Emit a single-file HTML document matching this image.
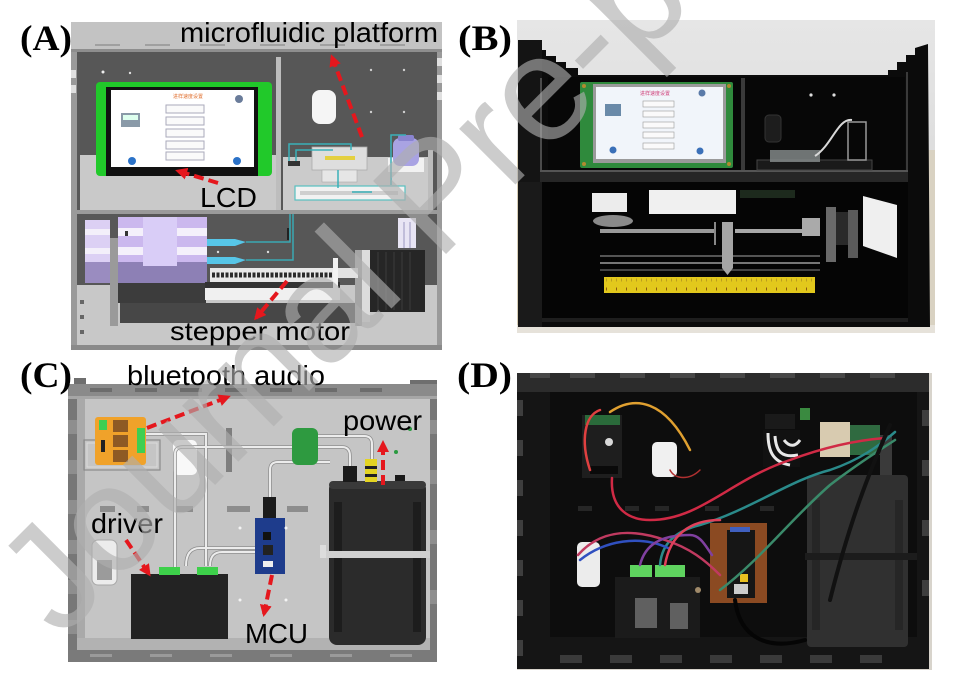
<!DOCTYPE html>
<html><head><meta charset="utf-8"><style>
html,body{margin:0;padding:0;background:#fff;}
svg{display:block;}
.lb{font-family:"Liberation Sans",Arial,sans-serif;fill:#000;}
.pl{font-family:"Liberation Serif","Times New Roman",serif;font-weight:bold;fill:#000;}
</style></head><body>
<svg width="955" height="683" viewBox="0 0 955 683" xmlns="http://www.w3.org/2000/svg">
<defs>
<marker id="ah" markerWidth="14" markerHeight="14" refX="9" refY="7" orient="auto" markerUnits="userSpaceOnUse">
<path d="M0,1 L12,7 L0,13 Z" fill="#e5171d"/>
</marker>
<linearGradient id="wall" x1="0" y1="0" x2="0" y2="1">
<stop offset="0" stop-color="#e6e6e6"/><stop offset="1" stop-color="#d2d2d2"/>
</linearGradient>
</defs>
<rect width="955" height="683" fill="#fff"/>

<!-- ================= PANEL A ================= -->
<rect x="71" y="22" width="371" height="328" fill="#7a7a7a"/>
<rect x="71" y="22" width="371" height="29" fill="#c3c3c3"/>
<rect x="71" y="49" width="371" height="3" fill="#8e8e8e"/>
<g fill="#a0a0a0"><rect x="95" y="44" width="25" height="2"/><rect x="145" y="44" width="25" height="2"/><rect x="200" y="44" width="25" height="2"/><rect x="260" y="44" width="25" height="2"/><rect x="320" y="44" width="25" height="2"/><rect x="380" y="44" width="25" height="2"/></g>
<rect x="71" y="52" width="6" height="298" fill="#9a9a9a"/>
<rect x="437" y="52" width="5" height="298" fill="#9a9a9a"/>
<g fill="#e0e0e0"><rect x="437" y="58" width="5" height="8"/><rect x="437" y="75" width="5" height="8"/><rect x="437" y="92" width="5" height="8"/><rect x="71" y="70" width="5" height="8"/><rect x="71" y="85" width="5" height="8"/></g>
<rect x="77" y="52" width="360" height="160" fill="#575757"/>
<rect x="276" y="57" width="5" height="153" fill="#bdbdbd"/>
<rect x="80" y="155" width="196" height="55" fill="#c9c9c9"/>
<rect x="283" y="157" width="150" height="53" fill="#cbcbcb"/>
<rect x="428" y="150" width="5" height="60" fill="#bcbcbc"/>
<rect x="77" y="210" width="360" height="4" fill="#9a9a9a"/>
<rect x="77" y="214" width="360" height="71" fill="#575757"/>
<rect x="77" y="285" width="360" height="60" fill="#c8c8c8"/>
<rect x="71" y="345" width="371" height="5" fill="#8a8a8a"/>
<g fill="#666"><rect x="80" y="300" width="4" height="4"/><rect x="80" y="315" width="4" height="4"/><rect x="80" y="330" width="4" height="4"/></g>
<rect x="118" y="283" width="88" height="20" fill="#3c3c3c"/>
<rect x="120" y="303" width="242" height="20" fill="#474747"/>
<rect x="110" y="238" width="8" height="88" fill="#9a9a9a"/>
<rect x="355" y="250" width="7" height="76" fill="#a5a5a5"/>
<rect x="85" y="220" width="25" height="42" fill="#dcd0f4"/>
<rect x="85" y="262" width="25" height="21" fill="#9a8cc0"/>
<rect x="85" y="229" width="25" height="6" fill="#f3effa"/>
<rect x="85" y="248" width="25" height="6" fill="#f3effa"/>
<rect x="118" y="217" width="89" height="45" fill="#cbb8ee"/>
<rect x="118" y="262" width="89" height="21" fill="#8d80b5"/>
<rect x="143" y="217" width="34" height="49" fill="#d9cdf7"/>
<g fill="#f4f0fb"><rect x="118" y="228" width="25" height="8"/><rect x="177" y="228" width="30" height="8"/><rect x="118" y="247" width="25" height="8"/><rect x="177" y="247" width="30" height="8"/></g>
<rect x="125" y="231" width="3" height="5" fill="#333"/>
<rect x="207" y="239" width="28" height="7" fill="#57c6e8"/><path d="M235,239 L246,242 L235,246 Z" fill="#57c6e8"/>
<rect x="207" y="257" width="28" height="7" fill="#57c6e8"/><path d="M235,257 L246,260 L235,264 Z" fill="#57c6e8"/>
<path d="M246,242 L290,242 L290,214 M246,260 L293,260 L293,214" stroke="#3aa8b4" stroke-width="1.5" fill="none"/>
<rect x="287" y="228" width="2" height="12" fill="#222"/>
<circle cx="218" cy="252" r="1.2" fill="#ddd"/><circle cx="268" cy="252" r="1.2" fill="#ddd"/>
<rect x="210" y="268" width="126" height="14" fill="#e8e8e8"/>
<line x1="212" y1="275" x2="334" y2="275" stroke="#2a2a2a" stroke-width="5" stroke-dasharray="3 1.5"/>
<rect x="205" y="282" width="135" height="6" fill="#333"/>
<rect x="205" y="288" width="135" height="12" fill="#f0f0f0"/>
<rect x="333" y="258" width="5" height="42" fill="#f2f2f2"/>
<rect x="338" y="268" width="20" height="10" fill="#e2e2e2"/>
<rect x="362" y="250" width="8" height="72" fill="#dcdcdc"/>
<rect x="370" y="250" width="55" height="62" fill="#262626"/>
<g stroke="#3c3c3c" stroke-width="1"><line x1="378" y1="252" x2="378" y2="310"/><line x1="386" y1="252" x2="386" y2="310"/><line x1="394" y1="252" x2="394" y2="310"/><line x1="402" y1="252" x2="402" y2="310"/><line x1="410" y1="252" x2="410" y2="310"/></g>
<rect x="398" y="218" width="18" height="30" fill="#e8e5f4"/>
<line x1="404" y1="222" x2="404" y2="248" stroke="#9a96c0"/><line x1="410" y1="222" x2="410" y2="248" stroke="#9a96c0"/>
<rect x="96" y="82" width="176" height="94" rx="4" fill="#21c92a"/>
<rect x="106" y="87" width="152" height="89" fill="#111"/>
<rect x="111" y="90" width="143" height="77" fill="#fff"/>
<text x="188" y="98" font-size="5" fill="#e07030" font-family="Liberation Sans,sans-serif" text-anchor="middle">进样速度设置</text>
<g fill="#fafafa" stroke="#aab"><rect x="166" y="105" width="38" height="8"/><rect x="166" y="117" width="38" height="8"/><rect x="166" y="129" width="38" height="8"/><rect x="166" y="141" width="38" height="8"/><rect x="166" y="152" width="38" height="8"/></g>
<rect x="121" y="113" width="19" height="14" fill="#8a9aa8"/><rect x="123" y="115" width="15" height="5" fill="#dfe"/>
<circle cx="132" cy="161" r="4" fill="#2b72c8"/><circle cx="237" cy="161" r="4" fill="#2b72c8"/><circle cx="239" cy="99" r="4" fill="#6a7c9a"/>
<circle cx="103" cy="72" r="1.5" fill="#eee"/><circle cx="130" cy="73" r="1.2" fill="#ddd"/>
<rect x="312" y="90" width="24" height="34" rx="8" fill="#f5f5f5"/>
<g fill="#cfcfcf"><circle cx="371" cy="70" r="1.2"/><circle cx="404" cy="70" r="1.2"/><circle cx="371" cy="112" r="1.2"/><circle cx="404" cy="112" r="1.2"/></g>
<rect x="312" y="147" width="55" height="23" fill="#dedede" stroke="#aaa" stroke-width="0.8"/>
<rect x="325" y="156" width="30" height="4" fill="#e4d040"/>
<rect x="322" y="170" width="35" height="12" fill="#e6e6e6" stroke="#aaa" stroke-width="0.6"/>
<rect x="295" y="186" width="110" height="14" fill="#f2f2f2" stroke="#57c0c0" stroke-width="1.2"/>
<rect x="300" y="191" width="98" height="4" fill="#cfcfcf"/>
<rect x="388" y="158" width="36" height="14" fill="#f2f2f2"/>
<rect x="393" y="138" width="26" height="28" rx="7" fill="#a9a3e3"/>
<rect x="398" y="135" width="16" height="6" rx="2" fill="#8a84d0"/>
<rect x="288" y="161" width="12" height="5" fill="#333"/>
<path d="M289,161 L289,144 L351,144 L351,150 M296,161 L296,150 L333,150 M338,170 L338,188 M391,185 L391,135 L406,135 M352,192 L372,192" stroke="#3ab0b8" stroke-width="1.5" fill="none"/>

<!-- ================= PANEL B ================= -->
<rect x="517" y="20" width="418" height="313" fill="url(#wall)"/>
<rect x="517" y="150" width="12" height="183" fill="#d6ccb4"/>
<rect x="905" y="150" width="30" height="183" fill="#d9d2c2"/>
<rect x="517" y="325" width="418" height="8" fill="#e6e2da"/>
<path d="M518,40 L528,40 L528,45 L537,45 L537,50 L546,50 L546,56 L556,56 L556,62 L566,62 L566,68 L578,68 L578,75 L888,75 L888,70 L897,70 L897,62 L906,62 L906,55 L915,55 L915,48 L928,44 L930,327 L518,327 Z" fill="#0b0b0b"/>
<rect x="518" y="40" width="24" height="287" fill="#141414"/>
<rect x="540" y="78" width="2" height="92" fill="#4a4a4a"/>
<rect x="548" y="77" width="357" height="95" fill="#070707"/>
<rect x="906" y="72" width="2" height="100" fill="#3a3a3a"/>
<rect x="741" y="78" width="4" height="95" fill="#3a3a3a"/>
<rect x="540" y="170" width="368" height="12" fill="#262626"/>
<rect x="540" y="170" width="368" height="2" fill="#555"/>
<rect x="542" y="182" width="366" height="140" fill="#050505"/>
<rect x="518" y="182" width="24" height="145" fill="#1a1a1a"/>
<rect x="542" y="318" width="366" height="4" fill="#1e1e1e"/>
<rect x="580" y="82" width="153" height="86" rx="2" fill="#2f8a3c"/>
<g fill="#b08a30"><circle cx="584" cy="86" r="2"/><circle cx="729" cy="86" r="2"/><circle cx="584" cy="164" r="2"/><circle cx="729" cy="164" r="2"/></g>
<rect x="593" y="84" width="133" height="79" fill="#9a9a9a"/>
<rect x="596" y="87" width="127" height="72" fill="#f1f5fa"/>
<text x="655" y="95" font-size="5" fill="#d0407a" font-family="Liberation Sans,sans-serif" text-anchor="middle">进样速度设置</text>
<g fill="#fafafa" stroke="#999" stroke-width="0.6"><rect x="643" y="101" width="31" height="6"/><rect x="643" y="111" width="31" height="6"/><rect x="643" y="122" width="31" height="6"/><rect x="643" y="132" width="31" height="6"/><rect x="643" y="143" width="31" height="6"/></g>
<rect x="605" y="104" width="16" height="12" fill="#6a8aa8"/>
<circle cx="613" cy="150" r="3.5" fill="#3a70b8"/><circle cx="700" cy="151" r="3.5" fill="#3a70b8"/><circle cx="702" cy="93" r="3.5" fill="#5a7aa8"/>
<rect x="765" y="115" width="16" height="27" rx="4" fill="#1d1d1d" stroke="#333"/>
<circle cx="811" cy="95" r="1.6" fill="#ddd"/><circle cx="834" cy="95" r="1.6" fill="#ddd"/>
<rect x="757" y="160" width="115" height="10" fill="#1a1a1a" stroke="#444"/>
<rect x="770" y="150" width="50" height="12" fill="#8a9090" opacity="0.8"/>
<path d="M815,156 C832,145 838,118 852,120" stroke="#d8d8d8" stroke-width="2" fill="none"/>
<rect x="848" y="122" width="18" height="38" fill="none" stroke="#999" stroke-width="1.5"/>
<rect x="592" y="193" width="35" height="19" fill="#ececec"/>
<rect x="649" y="190" width="87" height="24" fill="#f0f0f0"/>
<rect x="740" y="190" width="55" height="8" fill="#1d2a1d"/>
<ellipse cx="613" cy="221" rx="20" ry="6" fill="#8a8a8a"/>
<line x1="600" y1="231" x2="715" y2="231" stroke="#9a9a9a" stroke-width="4"/>
<line x1="735" y1="231" x2="820" y2="231" stroke="#a8a8a8" stroke-width="4"/>
<rect x="802" y="218" width="18" height="18" fill="#aaa"/>
<line x1="715" y1="222" x2="715" y2="245" stroke="#888" stroke-width="2"/>
<line x1="600" y1="256" x2="820" y2="256" stroke="#555" stroke-width="2"/>
<line x1="600" y1="263" x2="820" y2="263" stroke="#777" stroke-width="2"/>
<line x1="600" y1="270" x2="820" y2="270" stroke="#444" stroke-width="2"/>
<path d="M722,222 L733,222 L733,268 L727.5,275 L722,268 Z" fill="#a5a5a5"/>
<rect x="604" y="277" width="211" height="16" fill="#e2c81c"/>
<line x1="606" y1="289" x2="813" y2="289" stroke="#8a5a10" stroke-width="3" stroke-dasharray="1 9"/>
<line x1="606" y1="280" x2="813" y2="280" stroke="#a08020" stroke-width="3" stroke-dasharray="0.6 4.4"/>
<rect x="826" y="207" width="10" height="55" fill="#6a6a6a"/>
<rect x="836" y="212" width="12" height="33" fill="#2a2a2a"/>
<rect x="848" y="210" width="10" height="48" fill="#5a5a5a"/>
<path d="M863,196 L897,205 L897,258 L863,246 Z" fill="#efefef"/>

<!-- ================= PANEL C ================= -->
<rect x="68" y="384" width="369" height="278" fill="#777"/>
<rect x="74" y="378" width="12" height="8" fill="#6e6e6e"/>
<rect x="410" y="380" width="27" height="6" fill="#6e6e6e"/>
<rect x="68" y="384" width="369" height="14" fill="#8a8a8a"/>
<g fill="#6c6c6c"><rect x="90" y="388" width="22" height="4"/><rect x="135" y="388" width="22" height="4"/><rect x="180" y="388" width="22" height="4"/><rect x="225" y="388" width="22" height="4"/><rect x="270" y="388" width="22" height="4"/><rect x="315" y="388" width="22" height="4"/><rect x="360" y="388" width="22" height="4"/></g>
<rect x="68" y="396" width="369" height="3" fill="#a6a6a6"/>
<rect x="77" y="399" width="353" height="251" fill="#c5c5c5"/>
<rect x="77" y="399" width="8" height="251" fill="#a9a9a9"/>
<g fill="#8e8e8e"><rect x="68" y="420" width="9" height="14"/><rect x="68" y="460" width="9" height="14"/><rect x="68" y="500" width="9" height="14"/><rect x="68" y="540" width="9" height="14"/><rect x="68" y="580" width="9" height="14"/><rect x="68" y="620" width="9" height="14"/><rect x="430" y="420" width="7" height="14"/><rect x="430" y="470" width="7" height="14"/><rect x="430" y="530" width="7" height="14"/><rect x="430" y="590" width="7" height="14"/></g>
<rect x="77" y="638" width="353" height="12" fill="#b2b2b2"/>
<rect x="68" y="650" width="369" height="12" fill="#7a7a7a"/>
<g fill="#9a9a9a"><rect x="90" y="654" width="22" height="3"/><rect x="150" y="654" width="22" height="3"/><rect x="210" y="654" width="22" height="3"/><rect x="270" y="654" width="22" height="3"/><rect x="330" y="654" width="22" height="3"/><rect x="390" y="654" width="22" height="3"/></g>
<g fill="#8d8d8d"><rect x="100" y="506" width="15" height="6"/><rect x="137" y="506" width="12" height="6"/><rect x="175" y="506" width="18" height="6"/><rect x="227" y="506" width="23" height="6"/><rect x="287" y="506" width="21" height="6"/></g>
<rect x="226" y="428" width="6" height="44" fill="#7e7e7e"/>
<rect x="84" y="440" width="76" height="30" fill="none" stroke="#8a8a8a" stroke-width="1.2"/>
<rect x="87" y="443" width="70" height="24" fill="none" stroke="#dcdcdc" stroke-width="1"/>
<rect x="173" y="440" width="24" height="35" rx="5" fill="#f8f8f8"/>
<g fill="none" stroke="#8e8e8e" stroke-width="3.5"><path d="M175,570 L175,454 Q175,447 183,447 L342,447 Q350,447 350,456 L350,468"/><path d="M270,497 L270,470 Q270,462 278,462 L330,462"/><path d="M372,460 L372,444 Q372,436 364,436 L318,436"/><path d="M146,434 L206,434 L206,566"/><path d="M186,566 Q186,548 200,548 L255,548"/><path d="M210,566 Q210,552 222,552 L255,552"/></g>
<g fill="none" stroke="#ececec" stroke-width="2"><path d="M175,570 L175,454 Q175,447 183,447 L342,447 Q350,447 350,456 L350,468"/><path d="M270,497 L270,470 Q270,462 278,462 L330,462"/><path d="M372,460 L372,444 Q372,436 364,436 L318,436"/><path d="M146,434 L206,434 L206,566"/><path d="M186,566 Q186,548 200,548 L255,548"/><path d="M210,566 Q210,552 222,552 L255,552"/></g>
<rect x="95" y="417" width="51" height="48" rx="3" fill="#f0a22a"/>
<g fill="#8e5a24"><rect x="113" y="420" width="15" height="12"/><rect x="113" y="435" width="15" height="12"/><rect x="113" y="450" width="15" height="12"/></g>
<rect x="99" y="420" width="8" height="10" fill="#3ecf52"/>
<rect x="137" y="428" width="8" height="25" fill="#3ecf52"/>
<rect x="101" y="440" width="4" height="12" fill="#222"/>
<rect x="292" y="428" width="26" height="37" rx="6" fill="#2e9a40"/>
<circle cx="396" cy="452" r="2" fill="#2a9a40"/><circle cx="410" cy="429" r="2" fill="#2a9a40"/>
<rect x="92" y="540" width="25" height="45" rx="6" fill="#ececec" stroke="#a8a8a8"/>
<rect x="97" y="560" width="15" height="20" fill="#666" opacity="0.6"/>
<rect x="263" y="497" width="13" height="21" fill="#1b1b1b"/>
<rect x="255" y="518" width="30" height="56" fill="#1e3c8c"/>
<rect x="263" y="532" width="8" height="8" fill="#111"/><rect x="263" y="545" width="10" height="10" fill="#222"/><rect x="263" y="561" width="10" height="6" fill="#eee"/>
<g fill="#f4f4f4"><circle cx="240" cy="528" r="1.5"/><circle cx="286" cy="528" r="1.5"/><circle cx="240" cy="600" r="1.5"/><circle cx="286" cy="600" r="1.5"/></g>
<rect x="131" y="574" width="97" height="65" fill="#232323"/>
<rect x="159" y="567" width="21" height="8" fill="#3dd04a"/>
<rect x="197" y="567" width="21" height="8" fill="#3dd04a"/>
<rect x="329" y="481" width="97" height="164" rx="8" fill="#2b2b2b"/>
<rect x="329" y="481" width="97" height="8" rx="4" fill="#3a3a3a"/>
<rect x="334" y="502" width="8" height="130" fill="#1d1d1d"/>
<rect x="413" y="502" width="8" height="130" fill="#1d1d1d"/>
<rect x="320" y="551" width="110" height="7" fill="#d0d0d0"/>
<rect x="320" y="545" width="6" height="13" fill="#dcdcdc"/>
<rect x="343" y="466" width="14" height="16" fill="#1a1a1a"/>
<rect x="365" y="459" width="12" height="23" fill="#e4d422"/>
<rect x="365" y="466" width="12" height="3" fill="#222"/><rect x="365" y="474" width="12" height="3" fill="#222"/>
<rect x="395" y="475" width="10" height="6" fill="#1a1a1a"/>

<!-- ================= PANEL D ================= -->
<rect x="517" y="373" width="415" height="297" fill="#d8d4cc"/>
<rect x="517" y="373" width="412" height="296" fill="#151515"/>
<rect x="517" y="373" width="412" height="19" fill="#2c2c2c"/>
<g fill="#474747"><rect x="530" y="373" width="20" height="5"/><rect x="570" y="373" width="25" height="5"/><rect x="620" y="373" width="25" height="5"/><rect x="670" y="373" width="25" height="5"/><rect x="720" y="373" width="25" height="5"/><rect x="770" y="373" width="25" height="5"/><rect x="820" y="373" width="25" height="5"/><rect x="870" y="373" width="25" height="5"/></g>
<g fill="#3e3e3e"><rect x="517" y="400" width="6" height="16"/><rect x="517" y="440" width="6" height="16"/><rect x="517" y="480" width="6" height="16"/><rect x="517" y="520" width="6" height="16"/><rect x="517" y="560" width="6" height="16"/><rect x="517" y="600" width="6" height="16"/><rect x="517" y="640" width="6" height="16"/><rect x="922" y="410" width="7" height="16"/><rect x="922" y="460" width="7" height="16"/><rect x="922" y="520" width="7" height="16"/><rect x="922" y="580" width="7" height="16"/></g>
<rect x="550" y="392" width="367" height="245" fill="#0d0d0d"/>
<g fill="#3a3a3a"><rect x="560" y="655" width="22" height="8"/><rect x="610" y="655" width="22" height="8"/><rect x="660" y="655" width="22" height="8"/><rect x="710" y="655" width="22" height="8"/><rect x="760" y="655" width="22" height="8"/><rect x="810" y="655" width="22" height="8"/><rect x="860" y="655" width="22" height="8"/></g>
<g fill="#262626"><rect x="578" y="506" width="14" height="5"/><rect x="625" y="506" width="14" height="5"/><rect x="655" y="506" width="14" height="5"/><rect x="705" y="506" width="14" height="5"/><rect x="760" y="506" width="14" height="5"/></g>
<rect x="652" y="442" width="25" height="35" rx="5" fill="#f0f0f0"/>
<rect x="577" y="542" width="23" height="45" rx="5" fill="#ececec"/>
<rect x="807" y="475" width="101" height="172" rx="4" fill="#303030"/>
<rect x="812" y="500" width="8" height="130" fill="#262626"/><rect x="895" y="500" width="8" height="130" fill="#262626"/>
<rect x="805" y="553" width="112" height="7" fill="#1c1c1c"/>
<rect x="880" y="435" width="12" height="40" fill="#3a3a3a"/>
<rect x="582" y="415" width="40" height="63" fill="#1e1e1e"/>
<rect x="585" y="415" width="35" height="10" fill="#2a6a3a"/>
<rect x="590" y="466" width="28" height="8" fill="#0a0a0a"/>
<circle cx="609" cy="442" r="4" fill="#d8d8d8"/>
<rect x="763" y="430" width="37" height="37" fill="#111"/>
<path d="M768,433 C768,450 772,462 790,465 M775,436 C776,452 782,458 798,455 M784,440 C790,448 796,446 800,440" stroke="#e8e8e8" stroke-width="3" fill="none"/>
<rect x="765" y="414" width="30" height="15" fill="#1a1a1a"/>
<rect x="800" y="408" width="10" height="12" fill="#3a8a40"/>
<rect x="820" y="422" width="30" height="35" fill="#d8cbb0"/>
<rect x="850" y="425" width="30" height="30" fill="#2f6a40"/>
<rect x="615" y="577" width="85" height="61" fill="#1b1b1b"/>
<g fill="#9a9a9a" opacity="0.55"><rect x="635" y="598" width="22" height="30"/><rect x="670" y="603" width="18" height="26"/></g>
<rect x="630" y="565" width="22" height="12" fill="#5fd35f"/>
<rect x="655" y="565" width="30" height="12" fill="#5fd35f"/>
<circle cx="698" cy="590" r="3" fill="#a08a6a"/>
<rect x="710" y="523" width="57" height="80" fill="#8b4a22"/>
<rect x="727" y="530" width="28" height="68" fill="#161616"/>
<rect x="730" y="527" width="20" height="5" fill="#4060c0"/>
<rect x="740" y="574" width="8" height="8" fill="#e8c020"/>
<rect x="734" y="584" width="14" height="10" fill="#ccc"/>
<g fill="none" stroke-width="2.5" stroke-linecap="round">
<path d="M590,470 C580,440 585,415 600,410" stroke="#e04040"/>
<path d="M610,412 C635,395 665,400 690,450" stroke="#e0a030"/>
<path d="M612,478 C610,510 630,520 650,520 C700,520 730,480 790,460 C830,445 860,440 885,438" stroke="#d02a45"/>
<path d="M660,565 C662,540 680,530 700,525 C750,510 790,480 830,470 C860,460 880,445 895,432" stroke="#2a8a8a"/>
<path d="M720,590 C760,560 790,520 830,485 C860,462 880,450 895,440" stroke="#3a8a6a"/>
<path d="M578,555 C600,530 630,528 665,540 C690,548 705,560 720,575" stroke="#c03a60"/>
<path d="M580,560 C605,540 640,535 668,548" stroke="#3050c0"/>
<path d="M640,565 C645,545 660,535 690,535 C700,535 705,545 712,555" stroke="#8040a0"/>
<path d="M665,565 C670,535 690,520 720,520" stroke="#e0405a"/>
<path d="M670,470 C675,480 690,480 700,470" stroke="#b03030" stroke-width="1.5"/>
<path d="M735,600 C740,640 770,650 805,640" stroke="#050505" stroke-width="4"/>
<path d="M890,425 C870,470 850,520 830,600" stroke="#111" stroke-width="4"/>
</g>

<!-- ================= RED ARROWS ================= -->
<g stroke="#e5171d" stroke-width="4" stroke-dasharray="10 5" fill="none" marker-end="url(#ah)">
<line x1="218" y1="183" x2="178" y2="171"/>
<line x1="362" y1="137" x2="332" y2="57"/>
<line x1="287" y1="281" x2="256" y2="318"/>
<line x1="147" y1="428" x2="228" y2="397"/>
<line x1="383" y1="485" x2="383" y2="443"/>
<line x1="126" y1="540" x2="149" y2="574"/>
<line x1="272" y1="575" x2="264" y2="614"/>
</g>

<!-- ================= LABELS ================= -->
<text class="pl" x="20" y="50" font-size="36" textLength="52" lengthAdjust="spacingAndGlyphs">(A)</text>
<text class="pl" x="458" y="50" font-size="36" textLength="54" lengthAdjust="spacingAndGlyphs">(B)</text>
<text class="pl" x="20" y="387" font-size="36" textLength="52" lengthAdjust="spacingAndGlyphs">(C)</text>
<text class="pl" x="457" y="387" font-size="36" textLength="55" lengthAdjust="spacingAndGlyphs">(D)</text>
<text class="lb" x="180" y="42" font-size="28" textLength="258" lengthAdjust="spacingAndGlyphs">microfluidic platform</text>
<text class="lb" x="200" y="207" font-size="28" textLength="57" lengthAdjust="spacingAndGlyphs">LCD</text>
<text class="lb" x="170" y="340" font-size="26" textLength="180" lengthAdjust="spacingAndGlyphs">stepper motor</text>
<text class="lb" x="127" y="385" font-size="28" textLength="198" lengthAdjust="spacingAndGlyphs">bluetooth audio</text>
<text class="lb" x="343" y="430" font-size="28" textLength="79" lengthAdjust="spacingAndGlyphs">power</text>
<text class="lb" x="91" y="533" font-size="28" textLength="72" lengthAdjust="spacingAndGlyphs">driver</text>
<text class="lb" x="245" y="643" font-size="28" textLength="63" lengthAdjust="spacingAndGlyphs">MCU</text>

<!-- ================= WATERMARK ================= -->
<text x="60" y="640" transform="rotate(-45 60 640)" font-size="150" font-family="Liberation Sans,Arial,sans-serif" fill="#afafaf" fill-opacity="0.63">Journal Pre-proof</text>
</svg>
</body></html>
